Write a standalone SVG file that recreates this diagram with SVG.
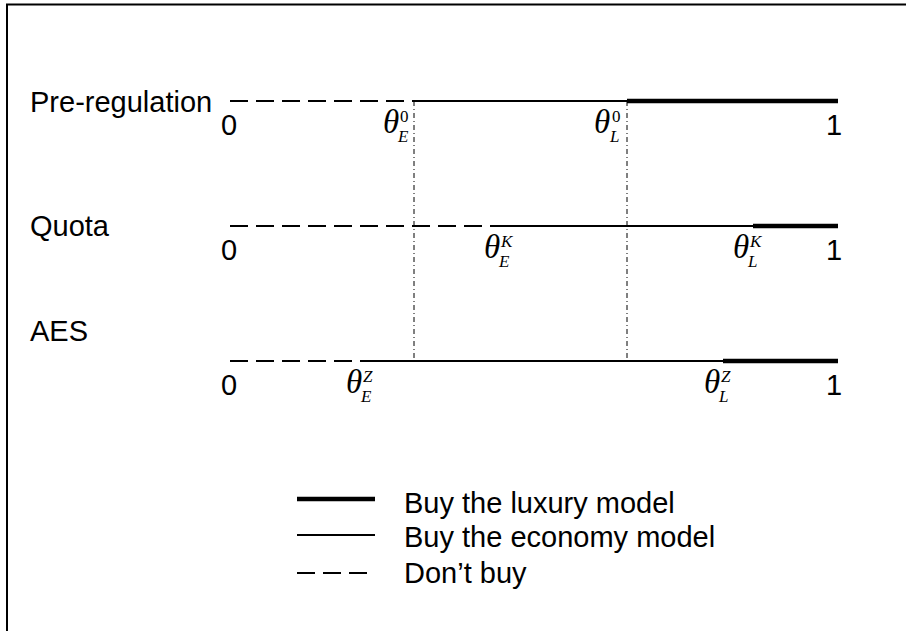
<svg xmlns="http://www.w3.org/2000/svg" width="906" height="631" viewBox="0 0 906 631">
<style>
.lbl{font-family:"Liberation Sans",Arial,sans-serif;font-size:29px;fill:#000}
.th{font-family:"Liberation Serif","Times New Roman",serif;font-style:italic;font-size:33px;fill:#000}
.sc{font-family:"Liberation Serif","Times New Roman",serif;font-style:italic;font-size:17px;fill:#000}
.up{font-family:"Liberation Serif","Times New Roman",serif;font-size:17px;fill:#000}
.dash{stroke:#000;stroke-width:2;stroke-dasharray:18,8;fill:none}
.thin{stroke:#000;stroke-width:2;fill:none}
.thick{stroke:#000;stroke-width:4.5;fill:none}
.guide{stroke:#000;stroke-width:1;stroke-dasharray:5,3,1,3;fill:none}
</style>
<rect width="906" height="631" fill="#fff"/>
<g id="frame">
<path d="M7 631 V4.5 H906" stroke="#000" stroke-width="2" fill="none"/>
</g>
<g id="connectors">
<line class="guide" x1="414" y1="101" x2="414" y2="361"/>
<line class="guide" x1="627" y1="101" x2="627" y2="361"/>
</g>
<g id="pre-regulation">
<text class="lbl" x="30" y="112">Pre-regulation</text>
<line class="dash" x1="230" y1="101" x2="414" y2="101"/>
<line class="thin" x1="414" y1="101" x2="627" y2="101"/>
<line class="thick" x1="627" y1="101" x2="838" y2="101"/>
<text class="lbl" x="221" y="135">0</text>
<text class="lbl" x="826" y="135">1</text>
<text class="th" x="383" y="133">θ</text><text class="up" x="400" y="122">0</text><text class="sc" x="398" y="142">E</text>
<text class="th" x="594" y="133">θ</text><text class="up" x="612" y="122">0</text><text class="sc" x="610" y="142">L</text>
</g>
<g id="quota">
<text class="lbl" x="30" y="236">Quota</text>
<line class="dash" x1="230" y1="226" x2="498" y2="226"/>
<line class="thin" x1="498" y1="226" x2="753" y2="226"/>
<line class="thick" x1="753" y1="226" x2="838" y2="226"/>
<text class="lbl" x="221" y="260">0</text>
<text class="lbl" x="826" y="260">1</text>
<text class="th" x="484" y="258">θ</text><text class="sc" x="501" y="247">K</text><text class="sc" x="499" y="267">E</text>
<text class="th" x="733" y="258">θ</text><text class="sc" x="750" y="247">K</text><text class="sc" x="748" y="267">L</text>
</g>
<g id="aes">
<text class="lbl" x="30" y="341">AES</text>
<line class="dash" x1="230" y1="361" x2="363" y2="361"/>
<line class="thin" x1="363" y1="361" x2="723" y2="361"/>
<line class="thick" x1="723" y1="361" x2="838" y2="361"/>
<text class="lbl" x="221" y="395">0</text>
<text class="lbl" x="826" y="395">1</text>
<text class="th" x="346" y="393">θ</text><text class="sc" x="363" y="382">Z</text><text class="sc" x="361" y="402">E</text>
<text class="th" x="704" y="393">θ</text><text class="sc" x="721" y="382">Z</text><text class="sc" x="719" y="402">L</text>
</g>
<g id="legend">
<line class="thick" x1="297" y1="499" x2="375" y2="499"/>
<text class="lbl" x="404" y="513">Buy the luxury model</text>
<line class="thin" x1="297" y1="535" x2="375" y2="535"/>
<text class="lbl" x="404" y="547">Buy the economy model</text>
<line class="dash" x1="297" y1="573" x2="370" y2="573" stroke-dasharray="18,10"/>
<text class="lbl" x="404" y="583">Don’t buy</text>
</g>
</svg>
